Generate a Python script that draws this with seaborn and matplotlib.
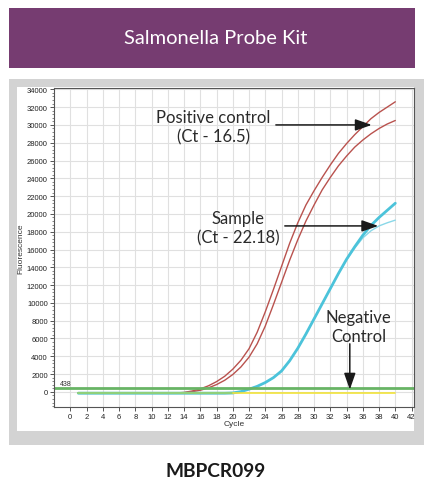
#!/usr/bin/env python3

# Salmonella probe kit - amplification plot (fluorescence vs cycle)

import seaborn as sns
import matplotlib.pyplot as plt
import pandas as pd
from matplotlib.patches import Rectangle
from matplotlib.ticker import MultipleLocator

W, H = 424, 481

cycles = list(range(1, 41))

# positive control, two replicates
pos_ctrl_a = [-150, -150, -150, -150, -150, -150, -150, -150, -150, -150,
              -150, -150, -130, -60, 100, 330, 680, 1150, 1750, 2550,
              3550, 4850, 6700, 9000, 11500, 14100, 16700, 19000, 21000, 22600,
              24100, 25500, 26800, 27900, 28900, 29800, 30700, 31400, 32000, 32600]
pos_ctrl_b = [-150, -150, -150, -150, -150, -150, -150, -150, -150, -150,
              -150, -150, -140, -100, 20, 180, 450, 820, 1300, 1950,
              2800, 3900, 5400, 7400, 9800, 12300, 14800, 17100, 19200, 21000,
              22700, 24100, 25400, 26500, 27500, 28300, 29000, 29600, 30100, 30500]

# sample, two replicates
sample_a = [-150, -150, -150, -150, -150, -150, -150, -150, -150, -150,
            -150, -150, -150, -150, -150, -150, -150, -150, -150, -120,
            30, 300, 620, 1050, 1600, 2350, 3500, 4900, 6500, 8200,
            9900, 11600, 13300, 14900, 16300, 17600, 18700, 19600, 20400, 21200]
sample_b = [-150, -150, -150, -150, -150, -150, -150, -150, -150, -150,
            -150, -150, -150, -150, -150, -150, -150, -150, -150, -120,
            30, 300, 620, 1050, 1600, 2350, 3500, 4900, 6500, 8200,
            9900, 11600, 13300, 14850, 16150, 17300, 18100, 18650, 19000, 19300]

# negative control baseline (green part, then yellow part)
neg_cycles_a = list(range(1, 21))
neg_ctrl_a = [-150, -150, -150, -150, -150, -150, -150, -150, -150, -150,
              -150, -150, -150, -150, -150, -150, -150, -150, -150, -150]
neg_cycles_b = list(range(20, 41))
neg_ctrl_b = [-170, -170, -170, -170, -170, -170, -170, -170, -170, -170, -170,
              -170, -170, -170, -170, -170, -170, -170, -170, -170, -170]

threshold = 438
x_ticks = list(range(0, 43, 2))

sns.set_theme(style="white")
plt.rcParams['font.family'] = ['Liberation Sans', 'DejaVu Sans']

fig = plt.figure(figsize=(W / 100, H / 100), dpi=100)


def box(x0, y0, x1, y1, color, z):
    r = Rectangle((x0 / W, 1 - y1 / H), (x1 - x0) / W, (y1 - y0) / H,
                  transform=fig.transFigure, facecolor=color, edgecolor="none", zorder=z)
    fig.add_artist(r)


box(9, 9, 415, 69, "#763c71", -3)      # banner
box(9, 80, 424, 446, "#d3d3d3", -3)    # grey frame
box(17, 88, 414, 432, "white", -2)     # chart area
box(9, 80, 424, 88, "#d3d3d3", 5)      # clips the top tick label

fig.text(216 / W, 1 - 38 / H, "Salmonella Probe Kit", color="white", fontsize=14.5,
         family="Lato", ha="center", va="center")
fig.text(216 / W, 1 - 472 / H, "MBPCR099", color="#1a1a1a", fontsize=13.8,
         family="Lato", weight="bold", ha="center", va="center")

ax = fig.add_axes([54 / W, 1 - 408 / H, 360 / W, 319 / H])
ax.set_facecolor("white")

red = "#b9524e"
cyan = "#4cc3da"
sns.lineplot(x=cycles, y=pos_ctrl_a, color=red, lw=1.0, ax=ax)
sns.lineplot(x=cycles, y=pos_ctrl_b, color=red, lw=1.0, ax=ax)
sns.lineplot(x=cycles, y=sample_b, color="#8ad8e8", lw=1.0, ax=ax)
sns.lineplot(x=cycles, y=sample_a, color=cyan, lw=2.0, ax=ax)
sns.lineplot(x=neg_cycles_a, y=neg_ctrl_a, color="#8fd07a", lw=1.6, ax=ax)
sns.lineplot(x=neg_cycles_b, y=neg_ctrl_b, color="#f2e33a", lw=1.2, ax=ax)
ax.axhline(threshold, color="#68b465", lw=2.0)
ax.text(-0.6, 900, str(threshold), fontsize=5, color="#333333", ha="center", va="center")

ax.set_xlim(-2, 42.3)
ax.set_ylim(-1700, 34150)
ax.set_xticks(x_ticks)
ax.yaxis.set_major_locator(MultipleLocator(2000))
ax.yaxis.set_minor_locator(MultipleLocator(400))
ax.grid(True, which="major", color="#e0e0e0", lw=0.8)
ax.set_axisbelow(True)
ax.tick_params(axis="both", which="major", direction="out", length=3, width=0.7,
               labelsize=5.5, labelcolor="#222222", color="#555555", pad=1.5)
ax.tick_params(axis="y", which="minor", direction="out", length=1.5, width=0.5,
               color="#555555", left=True)
ax.tick_params(axis="x", which="major", bottom=True)
ax.tick_params(axis="y", which="major", left=True)
for s in ax.spines.values():
    s.set_color("#555555")
    s.set_linewidth(0.8)
ax.set_xlabel("Cycle", fontsize=6, color="#333333", labelpad=0)
ax.set_ylabel("Fluorescence", fontsize=6, color="#333333", labelpad=2)

arrow = dict(arrowstyle="-|>,head_length=1.0,head_width=0.35", color="#1a1a1a",
             lw=1.1, mutation_scale=10, shrinkA=0, shrinkB=0)
txt = dict(fontsize=12, family="Lato", color="#2a2a2a", ha="center", va="center",
           linespacing=1.25)
ax.annotate("", xy=(37.1, 30000), xytext=(25.3, 30000), arrowprops=arrow)
ax.text(17.6, 29850, "Positive control\n(Ct - 16.5)", **txt)
ax.annotate("", xy=(37.9, 18650), xytext=(26.4, 18650), arrowprops=arrow)
ax.text(20.7, 18450, "Sample\n(Ct - 22.18)", **txt)
ax.annotate("", xy=(34.4, 250), xytext=(34.4, 5400), arrowprops=arrow)
ax.text(35.5, 7350, "Negative\nControl", **txt)

fig.savefig("out.png", dpi=100)
